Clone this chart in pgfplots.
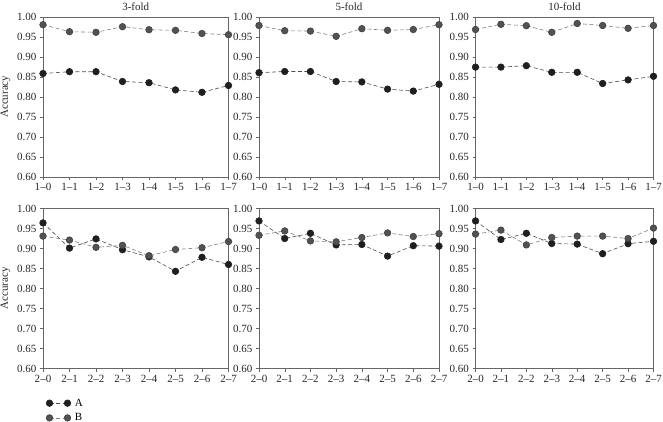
\documentclass[border=0pt]{standalone}
\usepackage{fontspec}
\setmainfont{Liberation Serif}
\usepackage{pgfplots}
\usepackage{pgfplotstable}
\pgfplotsset{compat=1.18}

\pgfplotstableread{
x A B
0 0.858 0.980
1 0.8625 0.9625
2 0.8625 0.961
3 0.838 0.975
4 0.835 0.9675
5 0.817 0.966
6 0.811 0.958
7 0.828 0.955
}\tabA
\pgfplotstableread{
x A B
0 0.860 0.978
1 0.863 0.965
2 0.863 0.964
3 0.838 0.951
4 0.837 0.970
5 0.819 0.966
6 0.814 0.968
7 0.831 0.980
}\tabB
\pgfplotstableread{
x A B
0 0.874 0.968
1 0.874 0.981
2 0.8775 0.9775
3 0.861 0.961
4 0.861 0.983
5 0.833 0.978
6 0.842 0.971
7 0.851 0.978
}\tabC
\pgfplotstableread{
x A B
0 0.964 0.931
1 0.901 0.921
2 0.924 0.903
3 0.897 0.908
4 0.879 0.882
5 0.843 0.8975
6 0.878 0.902
7 0.860 0.9175
}\tabD
\pgfplotstableread{
x A B
0 0.969 0.933
1 0.925 0.944
2 0.938 0.919
3 0.909 0.9167
4 0.910 0.9275
5 0.881 0.939
6 0.907 0.930
7 0.906 0.937
}\tabE
\pgfplotstableread{
x A B
0 0.969 0.936
1 0.9225 0.946
2 0.938 0.909
3 0.9125 0.9275
4 0.911 0.931
5 0.887 0.931
6 0.912 0.925
7 0.918 0.951
}\tabF

\pgfplotsset{
  panel/.style={
    scale only axis, height=160pt,
    xmin=0, xmax=7, ymin=0.60, ymax=1.00,
    ytick={0.6,0.65,0.7,0.75,0.8,0.85,0.9,0.95,1.0},
    yticklabel style={/pgf/number format/.cd, fixed, fixed zerofill, precision=2},
    /pgf/number format/assume math mode=true,
    xtick={0,...,7},
    tick align=outside, tick pos=left, major tick length=3pt,
    axis line style={black!60}, every tick/.style={black!60},
    ticklabel style={font=\fontsize{11}{13}\selectfont, text=black!85},
    label style={font=\fontsize{11}{13}\selectfont, text=black!85},
    title style={font=\fontsize{11}{13}\selectfont, text=black!85, yshift=-3pt},
    legend image code/.code={\draw plot coordinates {(0pt,0pt) (18pt,0pt)}; \path (23pt,0pt);},
  },
  serA/.style={draw=black!70, dash pattern=on 4pt off 2.5pt, line width=0.6pt,
    mark=*, mark size=3.3pt, mark options={solid, fill=black!88, draw=black!88}},
  serB/.style={draw=black!50, dash pattern=on 4pt off 2.5pt, line width=0.6pt,
    mark=*, mark size=3.3pt, mark options={solid, fill=black!68, draw=black!75}},
}

\begin{document}
\begin{tikzpicture}
\path[use as bounding box] (0,0) rectangle (663pt,-422pt);

\begin{axis}[panel, at={(43pt,-176.7pt)}, anchor=south west, width=185.5pt,
  title={3-fold}, ylabel={Accuracy},
  xticklabels={1\textendash0,1\textendash1,1\textendash2,1\textendash3,1\textendash4,1\textendash5,1\textendash6,1\textendash7}]
\addplot[serA] table[x=x,y=A]{\tabA};
\addplot[serB] table[x=x,y=B]{\tabA};
\end{axis}

\begin{axis}[panel, at={(259pt,-176.7pt)}, anchor=south west, width=180pt,
  title={5-fold},
  xticklabels={1\textendash0,1\textendash1,1\textendash2,1\textendash3,1\textendash4,1\textendash5,1\textendash6,1\textendash7}]
\addplot[serA] table[x=x,y=A]{\tabB};
\addplot[serB] table[x=x,y=B]{\tabB};
\end{axis}

\begin{axis}[panel, at={(475.5pt,-176.7pt)}, anchor=south west, width=178pt,
  title={10-fold},
  xticklabels={1\textendash0,1\textendash1,1\textendash2,1\textendash3,1\textendash4,1\textendash5,1\textendash6,1\textendash7}]
\addplot[serA] table[x=x,y=A]{\tabC};
\addplot[serB] table[x=x,y=B]{\tabC};
\end{axis}

\begin{axis}[panel, at={(43pt,-368.5pt)}, anchor=south west, width=185.5pt,
  ylabel={Accuracy},
  xticklabels={2\textendash0,2\textendash1,2\textendash2,2\textendash3,2\textendash4,2\textendash5,2\textendash6,2\textendash7},
  legend style={at={(axis description cs:0,-0.163)}, anchor=north west, draw=none, fill=none,
    font=\fontsize{11}{13}\selectfont, row sep=2pt, legend cell align=left}]
\addplot[serA] table[x=x,y=A]{\tabD};
\addlegendentry{A}
\addplot[serB] table[x=x,y=B]{\tabD};
\addlegendentry{B}
\end{axis}

\begin{axis}[panel, at={(259pt,-368.5pt)}, anchor=south west, width=180pt,
  xticklabels={2\textendash0,2\textendash1,2\textendash2,2\textendash3,2\textendash4,2\textendash5,2\textendash6,2\textendash7}]
\addplot[serA] table[x=x,y=A]{\tabE};
\addplot[serB] table[x=x,y=B]{\tabE};
\end{axis}

\begin{axis}[panel, at={(475.5pt,-368.5pt)}, anchor=south west, width=178pt,
  xticklabels={2\textendash0,2\textendash1,2\textendash2,2\textendash3,2\textendash4,2\textendash5,2\textendash6,2\textendash7}]
\addplot[serA] table[x=x,y=A]{\tabF};
\addplot[serB] table[x=x,y=B]{\tabF};
\end{axis}
\end{tikzpicture}
\end{document}
